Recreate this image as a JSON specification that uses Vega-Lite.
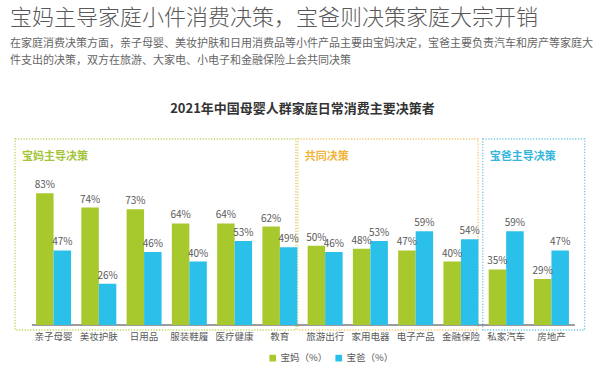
{
  "$schema": "https://vega.github.io/schema/vega-lite/v6.json",
  "padding": {"left": 10, "top": 6, "right": 5, "bottom": 0},
  "background": "white",
  "config": {
    "view": {"stroke": null},
    "font": "Noto Sans CJK SC",
    "text": {"font": "Noto Sans CJK SC"}
  },
  "title": {
    "text": "宝妈主导家庭小件消费决策，宝爸则决策家庭大宗开销",
    "subtitle": ["在家庭消费决策方面，亲子母婴、美妆护肤和日用消费品等小件产品主要由宝妈决定，宝爸主要负责汽车和房产等家庭大", "件支出的决策，双方在旅游、大家电、小电子和金融保险上会共同决策"],
    "anchor": "start",
    "frame": "group",
    "fontSize": 22,
    "fontWeight": 300,
    "color": "#595959",
    "subtitleFontSize": 11,
    "subtitleColor": "#666666",
    "subtitleLineHeight": 17.7,
    "subtitlePadding": 8,
    "offset": 36
  },
  "datasets": {
    "main": [
      {"category": "亲子母婴", "series": "宝妈（%）", "value": 0.83},
      {"category": "美妆护肤", "series": "宝妈（%）", "value": 0.74},
      {"category": "日用品", "series": "宝妈（%）", "value": 0.73},
      {"category": "服装鞋履", "series": "宝妈（%）", "value": 0.64},
      {"category": "医疗健康", "series": "宝妈（%）", "value": 0.64},
      {"category": "教育", "series": "宝妈（%）", "value": 0.62},
      {"category": "旅游出行", "series": "宝妈（%）", "value": 0.50},
      {"category": "家用电器", "series": "宝妈（%）", "value": 0.48},
      {"category": "电子产品", "series": "宝妈（%）", "value": 0.47},
      {"category": "金融保险", "series": "宝妈（%）", "value": 0.40},
      {"category": "私家汽车", "series": "宝妈（%）", "value": 0.35},
      {"category": "房地产", "series": "宝妈（%）", "value": 0.29},
      {"category": "亲子母婴", "series": "宝爸（%）", "value": 0.47},
      {"category": "美妆护肤", "series": "宝爸（%）", "value": 0.26},
      {"category": "日用品", "series": "宝爸（%）", "value": 0.46},
      {"category": "服装鞋履", "series": "宝爸（%）", "value": 0.40},
      {"category": "医疗健康", "series": "宝爸（%）", "value": 0.53},
      {"category": "教育", "series": "宝爸（%）", "value": 0.49},
      {"category": "旅游出行", "series": "宝爸（%）", "value": 0.46},
      {"category": "家用电器", "series": "宝爸（%）", "value": 0.53},
      {"category": "电子产品", "series": "宝爸（%）", "value": 0.59},
      {"category": "金融保险", "series": "宝爸（%）", "value": 0.54},
      {"category": "私家汽车", "series": "宝爸（%）", "value": 0.59},
      {"category": "房地产", "series": "宝爸（%）", "value": 0.47}
    ],
    "boxes": [
      {"group": "宝妈主导决策", "from": "亲子母婴", "to": "教育"},
      {"group": "共同决策", "from": "旅游出行", "to": "金融保险"},
      {"group": "宝爸主导决策", "from": "私家汽车", "to": "房地产"}
    ],
    "baseline": [
      {"from": "亲子母婴", "to": "房地产"}
    ]
  },
  "spacing": 0,
  "vconcat": [
    {
      "width": 585,
      "height": 191,
      "title": {
        "text": "2021年中国母婴人群家庭日常消费主要决策者",
        "anchor": "middle",
        "fontSize": 13,
        "fontWeight": "bold",
        "color": "#333333",
        "offset": 22
      },
      "layer": [
        {
          "data": {"name": "boxes"},
          "transform": [{"filter": "datum.group === '宝妈主导决策'"}],
          "layer": [
            {
              "mark": {"type": "rect", "fill": "white", "fillOpacity": 0, "stroke": "#bcd35e", "strokeWidth": 1.3, "strokeDash": [1.2, 1.6]},
              "encoding": {
                "x": {"field": "from", "type": "nominal", "bandPosition": -0.6,
                      "axis": {"title": null, "domain": false, "ticks": false, "labelAngle": 0, "labelFontSize": 9.5, "labelColor": "#595959", "labelPadding": 1, "labelFont": "Noto Sans CJK SC"},
                      "scale": {"domain": ["亲子母婴","美妆护肤","日用品","服装鞋履","医疗健康","教育","旅游出行","家用电器","电子产品","金融保险","私家汽车","房地产"], "paddingInner": 0.227, "paddingOuter": 0.576}},
                "x2": {"field": "to", "bandPosition": 0.96},
                "y": {"datum": 1.172, "type": "quantitative", "axis": null, "scale": {"domain": [-0.0315, 1.172], "nice": false, "zero": false}},
                "y2": {"datum": -0.0315}
              }
            },
            {
              "mark": {"type": "text", "align": "left", "baseline": "middle", "dx": 7, "fontSize": 11, "fontWeight": "bold", "color": "#a3c53a"},
              "encoding": {
                "x": {"field": "from", "type": "nominal", "bandPosition": -0.6},
                "y": {"datum": 1.06, "type": "quantitative"},
                "text": {"field": "group"}
              }
            }
          ]
        },
        {
          "data": {"name": "boxes"},
          "transform": [{"filter": "datum.group === '共同决策'"}],
          "layer": [
            {
              "mark": {"type": "rect", "fill": "white", "fillOpacity": 0, "stroke": "#f2c667", "strokeWidth": 1.3, "strokeDash": [1.2, 1.6]},
              "encoding": {
                "x": {"field": "from", "type": "nominal", "bandPosition": -0.28},
                "x2": {"field": "to", "bandPosition": 0.99},
                "y": {"datum": 1.172, "type": "quantitative"},
                "y2": {"datum": -0.0315}
              }
            },
            {
              "mark": {"type": "text", "align": "left", "baseline": "middle", "dx": 7, "fontSize": 11, "fontWeight": "bold", "color": "#f0b43c"},
              "encoding": {
                "x": {"field": "from", "type": "nominal", "bandPosition": -0.28},
                "y": {"datum": 1.06, "type": "quantitative"},
                "text": {"field": "group"}
              }
            }
          ]
        },
        {
          "data": {"name": "boxes"},
          "transform": [{"filter": "datum.group === '宝爸主导决策'"}],
          "layer": [
            {
              "mark": {"type": "rect", "fill": "white", "fillOpacity": 0, "stroke": "#6ec8e2", "strokeWidth": 1.3, "strokeDash": [1.2, 1.6]},
              "encoding": {
                "x": {"field": "from", "type": "nominal", "bandPosition": -0.17},
                "x2": {"field": "to", "bandPosition": 1.45},
                "y": {"datum": 1.172, "type": "quantitative"},
                "y2": {"datum": -0.0315}
              }
            },
            {
              "mark": {"type": "text", "align": "left", "baseline": "middle", "dx": 7, "fontSize": 11, "fontWeight": "bold", "color": "#35b6dc"},
              "encoding": {
                "x": {"field": "from", "type": "nominal", "bandPosition": -0.17},
                "y": {"datum": 1.06, "type": "quantitative"},
                "text": {"field": "group"}
              }
            }
          ]
        },
        {
          "data": {"name": "baseline"},
          "mark": {"type": "rule", "color": "#3a3a3a", "strokeWidth": 1.2},
          "encoding": {
            "x": {"field": "from", "type": "nominal", "bandPosition": -0.12},
            "x2": {"field": "to", "bandPosition": 1.17},
            "y": {"datum": 0, "type": "quantitative"}
          }
        },
        {
          "data": {"name": "main"},
          "mark": {"type": "bar"},
          "encoding": {
            "x": {"field": "category", "type": "nominal", "sort": null},
            "xOffset": {"field": "series", "type": "nominal", "sort": ["宝妈（%）", "宝爸（%）"], "scale": {"paddingInner": 0, "paddingOuter": 0}},
            "y": {"field": "value", "type": "quantitative"},
            "y2": {"datum": 0},
            "color": {"field": "series", "type": "nominal", "sort": ["宝妈（%）", "宝爸（%）"],
                      "scale": {"domain": ["宝妈（%）", "宝爸（%）"], "range": ["#a8c92e", "#2bc0ea"]},
                      "legend": {"orient": "none", "legendX": 258, "legendY": 214, "direction": "horizontal", "title": null, "symbolType": "square", "symbolSize": 45, "symbolStrokeWidth": 0, "labelFontSize": 9.5, "labelColor": "#595959", "labelFont": "Noto Sans CJK SC", "columnPadding": 6, "labelOffset": 3}}
          }
        },
        {
          "data": {"name": "main"},
          "mark": {"type": "text", "baseline": "bottom", "dy": -3, "fontSize": 10, "color": "#595959"},
          "encoding": {
            "x": {"field": "category", "type": "nominal"},
            "xOffset": {"field": "series", "type": "nominal", "sort": ["宝妈（%）", "宝爸（%）"]},
            "y": {"field": "value", "type": "quantitative"},
            "text": {"field": "value", "type": "quantitative", "format": ".0%"}
          }
        }
      ]
    }
  ]
}
